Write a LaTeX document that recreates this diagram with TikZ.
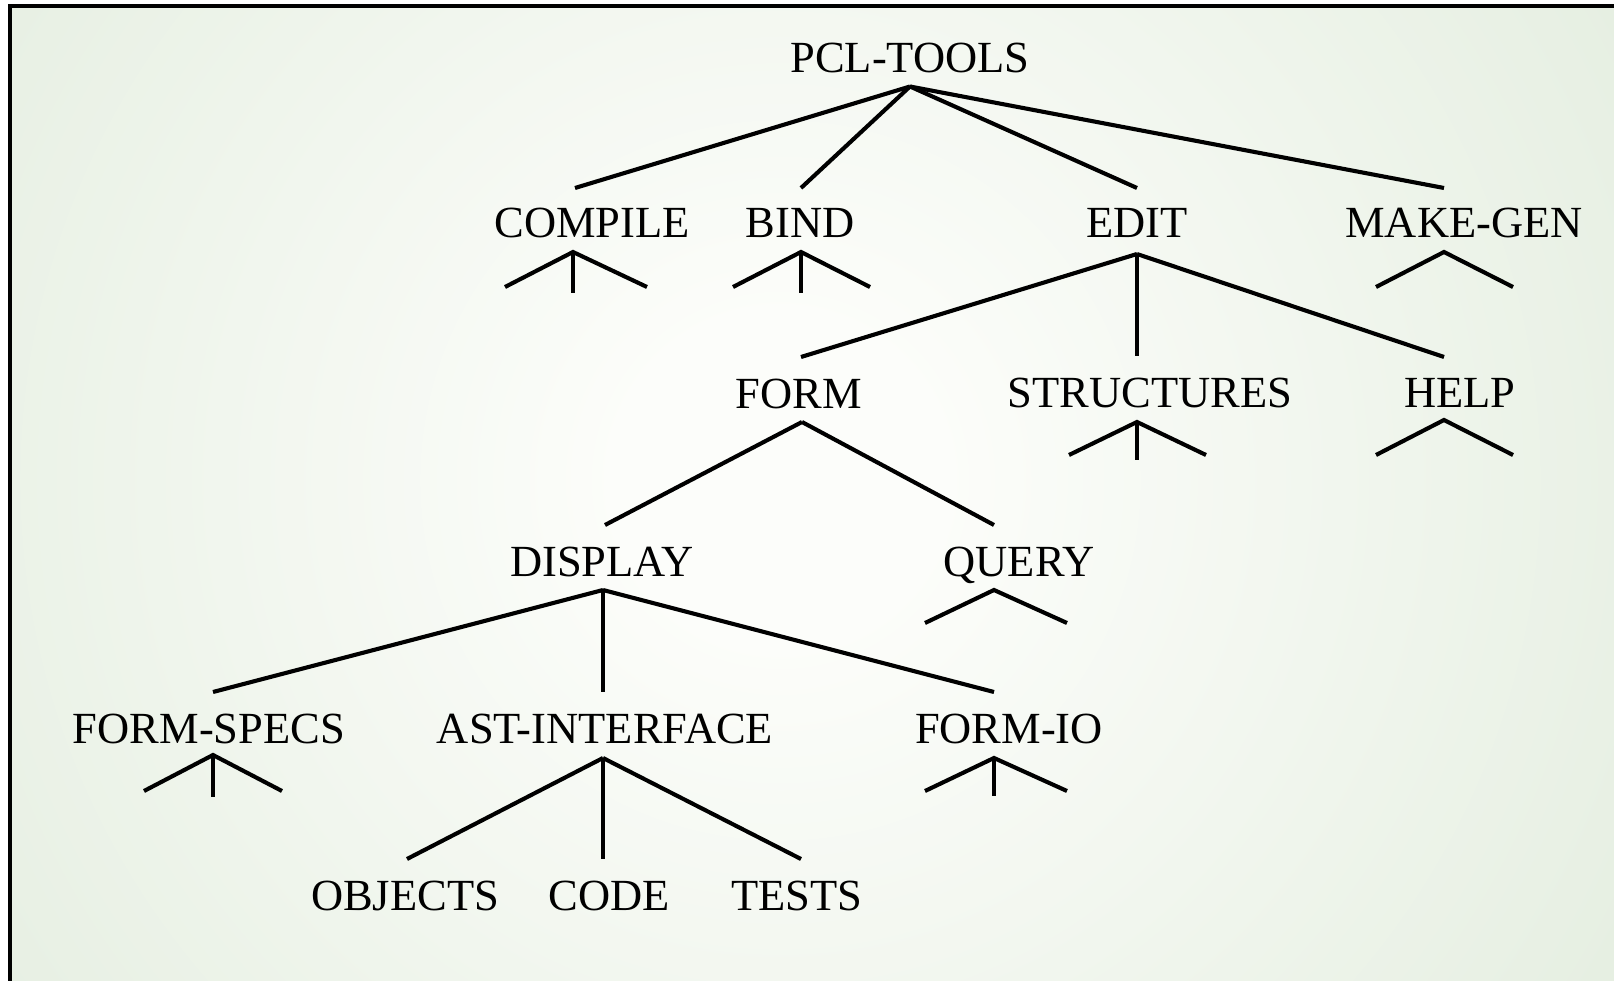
\documentclass[tikz,border=0pt]{standalone}
\usepackage{fontspec}
\setmainfont{Liberation Serif}
\definecolor{bgc0}{RGB}{252,253,250}
\definecolor{bgc1}{RGB}{230,239,226}
\definecolor{bgc2}{RGB}{218,230,211}
\definecolor{bgc3}{RGB}{207,223,197}
\pgfdeclareradialshading{bgshade}{\pgfpoint{0bp}{0bp}}{color(0bp)=(bgc0); color(4bp)=(bgc0); color(24bp)=(bgc1); color(39bp)=(bgc2); color(46bp)=(bgc3); color(50bp)=(bgc3)}
\begin{document}
\begin{tikzpicture}[x=1pt,y=-1pt,
  lbl/.style={anchor=base, inner sep=0pt, font=\fontsize{44.5}{50}\selectfont},
  edge/.style={line width=4.1pt}]
\useasboundingbox (0,0) rectangle (1614,981);
\begin{scope}
\clip (9.5,6) rectangle (1640,1000);
\shade[shading=bgshade] (-220,-520) rectangle (1780,1480);
\end{scope}
\draw[line width=4pt] (9.5,1000) -- (9.5,6) -- (1640,6);

% labels
\node[lbl] (pcl) at (910,73) {PCL-TOOLS};
\node[lbl] (compile) at (592,238) {COMPILE};
\node[lbl] (bind) at (800,238) {BIND};
\node[lbl] (edit) at (1137,238) {EDIT};
\node[lbl] (make) at (1464,238) {MAKE-GEN};
\node[lbl] (form) at (799,408) {FORM};
\node[lbl] (struct) at (1150,407) {STRUCTURES};
\node[lbl] (help) at (1460,407) {HELP};
\node[lbl] (display) at (602,576) {DISPLAY};
\node[lbl] (query) at (1019,576) {QUERY};
\node[lbl] (fspecs) at (209,743) {FORM-SPECS};
\node[lbl] (ast) at (605,743) {AST-INTERFACE};
\node[lbl] (fio) at (1009,743) {FORM-IO};
\node[lbl] (objects) at (405,910) {OBJECTS};
\node[lbl] (code) at (609,910) {CODE};
\node[lbl] (tests) at (797,910) {TESTS};

% connector points
\coordinate (pclB) at (910,86.5);
\coordinate (compileT) at (575,188);
\coordinate (bindT) at (801,188);
\coordinate (editT) at (1137,188);
\coordinate (makeT) at (1444,188);
\coordinate (compileB) at (573,252);
\coordinate (bindB) at (801,252);
\coordinate (makeB) at (1444,252);
\coordinate (editB) at (1137,254);
\coordinate (formT) at (801,357);
\coordinate (structT) at (1137,356);
\coordinate (helpT) at (1444,357);
\coordinate (helpB) at (1444,420);
\coordinate (structB) at (1137,422);
\coordinate (formB) at (802,422);
\coordinate (displayT) at (605,525);
\coordinate (queryT) at (994,525);
\coordinate (queryB) at (994,590);
\coordinate (displayB) at (603,590);
\coordinate (fspecsT) at (213,692);
\coordinate (astT) at (603,692);
\coordinate (fioT) at (994,692);
\coordinate (fspecsB) at (213,755);
\coordinate (fioB) at (994,758);
\coordinate (astB) at (603,758);
\coordinate (objectsT) at (407,859);
\coordinate (codeT) at (603,859);
\coordinate (testsT) at (801,859);

% free ends of collapsed subtrees
\coordinate (c1) at (505,287); \coordinate (c2) at (573,293); \coordinate (c3) at (647,287);
\coordinate (b1) at (733,287); \coordinate (b2) at (801,293); \coordinate (b3) at (870,287);
\coordinate (m1) at (1376,287); \coordinate (m3) at (1513,287);
\coordinate (h1) at (1376,455); \coordinate (h3) at (1513,455);
\coordinate (s1) at (1069,455); \coordinate (s2) at (1137,460); \coordinate (s3) at (1206,455);
\coordinate (q1) at (925,623); \coordinate (q3) at (1067,623);
\coordinate (f1) at (144,791); \coordinate (f2) at (213,797); \coordinate (f3) at (282,791);
\coordinate (o1) at (925,791); \coordinate (o2) at (994,796); \coordinate (o3) at (1067,791);

% tree edges
\draw[edge] (pclB) -- (compileT);
\draw[edge] (pclB) -- (bindT);
\draw[edge] (pclB) -- (editT);
\draw[edge] (pclB) -- (makeT);
\draw[edge] (editB) -- (formT);
\draw[edge] (editB) -- (structT);
\draw[edge] (editB) -- (helpT);
\draw[edge] (formB) -- (displayT);
\draw[edge] (formB) -- (queryT);
\draw[edge] (displayB) -- (fspecsT);
\draw[edge] (displayB) -- (astT);
\draw[edge] (displayB) -- (fioT);
\draw[edge] (astB) -- (objectsT);
\draw[edge] (astB) -- (codeT);
\draw[edge] (astB) -- (testsT);

% collapsed subtrees
\draw[edge] (c1) -- (compileB) -- (c3); \draw[edge] (compileB) -- (c2);
\draw[edge] (b1) -- (bindB) -- (b3); \draw[edge] (bindB) -- (b2);
\draw[edge] (m1) -- (makeB) -- (m3);
\draw[edge] (h1) -- (helpB) -- (h3);
\draw[edge] (s1) -- (structB) -- (s3); \draw[edge] (structB) -- (s2);
\draw[edge] (q1) -- (queryB) -- (q3);
\draw[edge] (f1) -- (fspecsB) -- (f3); \draw[edge] (fspecsB) -- (f2);
\draw[edge] (o1) -- (fioB) -- (o3); \draw[edge] (fioB) -- (o2);
\end{tikzpicture}
\end{document}
